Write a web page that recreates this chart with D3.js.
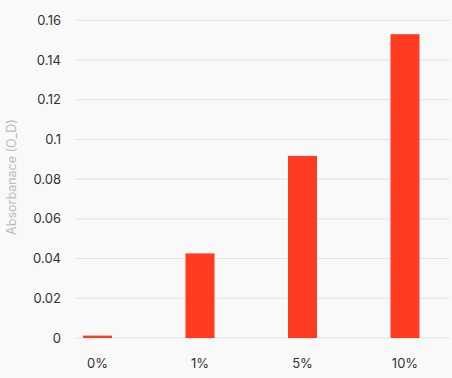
<!DOCTYPE html>
<html>
<head>
<meta charset="utf-8">
<script src="https://cdn.jsdelivr.net/npm/d3@7"></script>
<style>
  html, body { margin: 0; padding: 0; background: #f9f9f9; }
  svg { display: block; font-family: Inter, Roboto, "Noto Sans", sans-serif; }
</style>
</head>
<body>
<div id="chart"></div>
<script>
// Data
const categories = ['0%', '1%', '5%', '10%'];
const absorbance = [0.0012, 0.0426, 0.0917, 0.153];
const yTicks = [0, 0.02, 0.04, 0.06, 0.08, 0.1, 0.12, 0.14, 0.16];

const width = 452;
const height = 378;

const svg = d3
  .select('#chart')
  .append('svg')
  .attr('width', width)
  .attr('height', height);

// Scales
const x = d3.scalePoint().domain(categories).range([97.5, 405]);
const y = d3.scaleLinear().domain([0, 0.16]).range([338, 20.3]);
const barWidth = 29;

// Gridlines
svg
  .append('g')
  .selectAll('line')
  .data(yTicks)
  .join('line')
  .attr('x1', 75)
  .attr('x2', 449)
  .attr('y1', (d) => y(d))
  .attr('y2', (d) => y(d))
  .style('stroke', '#e2e2e2')
  .style('stroke-width', 1);

// Y axis labels
svg
  .append('g')
  .selectAll('text')
  .data(yTicks)
  .join('text')
  .attr('x', 61)
  .attr('y', (d) => y(d))
  .attr('dy', '0.35em')
  .attr('text-anchor', 'end')
  .attr('font-size', 13)
  .attr('fill', '#333')
  .text((d) => String(d));

// Bars
svg
  .append('g')
  .selectAll('rect')
  .data(absorbance)
  .join('rect')
  .attr('x', (d, i) => x(categories[i]) - barWidth / 2)
  .attr('y', (d) => y(d))
  .attr('width', barWidth)
  .attr('height', (d) => y(0) - y(d))
  .style('fill', '#ff3b22');

// X axis labels
svg
  .append('g')
  .selectAll('text')
  .data(categories)
  .join('text')
  .attr('x', (d) => x(d))
  .attr('y', 368)
  .attr('text-anchor', 'middle')
  .attr('font-size', 13)
  .attr('fill', '#333')
  .text((d) => d);

// Y axis title
svg
  .append('text')
  .attr('transform', 'translate(16, 177) rotate(-90)')
  .attr('text-anchor', 'middle')
  .attr('font-size', 12.5)
  .attr('fill', '#bbb')
  .text('Absorbanace (O_D)');
</script>
</body>
</html>
